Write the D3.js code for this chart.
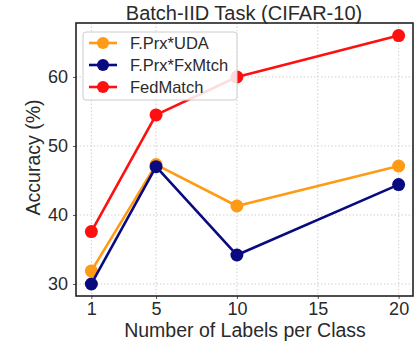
<!DOCTYPE html>
<html>
<head>
<meta charset="utf-8">
<script src="https://cdn.jsdelivr.net/npm/d3@7"></script>
<style>
  body { margin: 0; background: #fff; }
  svg text { font-family: "Liberation Sans", Arial, sans-serif; fill: #2a2a2a; }
</style>
</head>
<body>
<svg id="chart" width="414" height="344"></svg>
<script>
const labelsPerClass = [1, 5, 10, 20];
const xTicks = [1, 5, 10, 15, 20];
const yTicks = [30, 40, 50, 60];
const seriesNames = ['F.Prx*UDA', 'F.Prx*FxMtch', 'FedMatch'];
const seriesColors = ['#ff9a14', '#0a0a80', '#ff1010'];
const udaValues = [31.9, 47.3, 41.3, 47.1];
const fxmtchValues = [30.0, 47.0, 34.2, 44.4];
const fedmatchValues = [37.6, 54.5, 60.0, 66.0];

const series = [udaValues, fxmtchValues, fedmatchValues].map((vals, i) => ({
  name: seriesNames[i],
  color: seriesColors[i],
  points: vals.map((v, j) => ({ x: labelsPerClass[j], y: v }))
}));

const margin = { top: 23, right: 0, bottom: 48, left: 76 };
const W = 414, H = 344;
const width = W - margin.left - margin.right;
const height = H - margin.top - margin.bottom;

const svg = d3.select('#chart');
const g = svg.append('g').attr('transform', 'translate(' + margin.left + ',' + margin.top + ')');

const x = d3.scaleLinear().domain([0.05, 20.95]).range([0, width]);
const y = d3.scaleLinear().domain([28.26, 67.82]).range([height, 0]);

// grid
g.append('g').selectAll('line').data(xTicks).join('line')
  .attr('x1', d => x(d)).attr('x2', d => x(d)).attr('y1', 0).attr('y2', height)
  .attr('stroke', '#d0d0d0').attr('stroke-width', 1).attr('stroke-dasharray', '1.5,2');
g.append('g').selectAll('line').data(yTicks).join('line')
  .attr('y1', d => y(d)).attr('y2', d => y(d)).attr('x1', 0).attr('x2', width)
  .attr('stroke', '#d0d0d0').attr('stroke-width', 1).attr('stroke-dasharray', '1.5,2');

// axes
const xAxis = g.append('g').attr('transform', 'translate(0,' + height + ')')
  .call(d3.axisBottom(x).tickValues(xTicks).tickSize(3).tickPadding(3));
const yAxis = g.append('g')
  .call(d3.axisLeft(y).tickValues(yTicks).tickSize(3).tickPadding(5));
[xAxis, yAxis].forEach(a => {
  a.select('.domain').remove();
  a.selectAll('line').attr('stroke', '#555');
  a.selectAll('text').style('font-size', '18px').attr('fill', '#2a2a2a');
});

// lines + markers
const line = d3.line().x(d => x(d.x)).y(d => y(d.y));
series.forEach(s => {
  g.append('path').datum(s.points)
    .attr('d', line).attr('fill', 'none')
    .attr('stroke', s.color).attr('stroke-width', 2.6).attr('stroke-linejoin', 'round');
  g.append('g').selectAll('circle').data(s.points).join('circle')
    .attr('cx', d => x(d.x)).attr('cy', d => y(d.y)).attr('r', 6.5)
    .attr('fill', s.color);
});

// frame
g.append('rect').attr('width', width - 1).attr('height', height)
  .attr('fill', 'none').attr('stroke', '#222').attr('stroke-width', 1.6);

// legend
const legend = g.append('g').attr('transform', 'translate(7,9)');
legend.append('rect').attr('width', 154).attr('height', 68).attr('rx', 3)
  .attr('fill', 'rgba(255,255,255,0.85)').attr('stroke', '#ccc');
series.forEach((s, i) => {
  const row = legend.append('g').attr('transform', 'translate(0,' + (11 + i * 22) + ')');
  row.append('line').attr('x1', 6).attr('x2', 34).attr('stroke', s.color).attr('stroke-width', 2.6);
  row.append('circle').attr('cx', 20).attr('r', 6).attr('fill', s.color);
  row.append('text').attr('x', 47).attr('dy', '0.36em').style('font-size', '16.5px').text(s.name);
});

// title & labels
svg.append('text').attr('x', 244).attr('y', 20).attr('text-anchor', 'middle')
  .style('font-size', '20px').text('Batch-IID Task (CIFAR-10)');
svg.append('text').attr('x', 245).attr('y', 337).attr('text-anchor', 'middle')
  .style('font-size', '19.5px').text('Number of Labels per Class');
svg.append('text').attr('transform', 'translate(40,' + (margin.top + height / 2 - 2) + ') rotate(-90)')
  .attr('text-anchor', 'middle').style('font-size', '19.5px').text('Accuracy (%)');
</script>
</body>
</html>
